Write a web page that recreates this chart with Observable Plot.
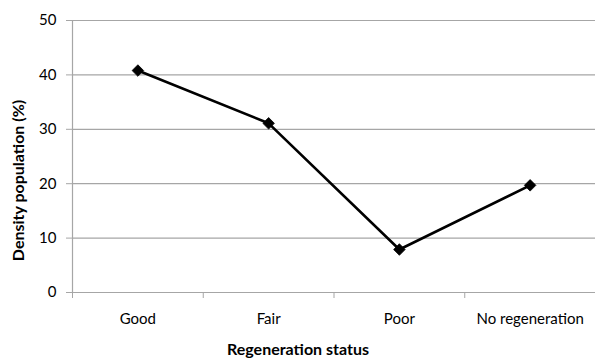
<!DOCTYPE html>
<html>
<head>
<meta charset="utf-8">
<script src="https://cdn.jsdelivr.net/npm/d3@7"></script>
<script src="https://cdn.jsdelivr.net/npm/@observablehq/plot@0.6"></script>
<style>
  html, body { margin: 0; padding: 0; background: #fff; }
  #chart svg { display: block; }
</style>
</head>
<body>
<div id="chart"></div>
<script>
const categories = ["Good", "Fair", "Poor", "No regeneration"];
const values = [40.8, 31.1, 7.9, 19.7];
const yTicks = [0, 10, 20, 30, 40, 50];
const xTitle = "Regeneration status";
const yTitle = "Density population (%)";

const data = categories.map((c, i) => ({cat: c, pos: i + 0.5, value: values[i]}));
const boundaries = d3.range(categories.length + 1);

const W = 595, H = 360;
const mL = 72, mR = 0, mT = 20, mB = 68;
const font = "Lato, 'Open Sans', sans-serif";
const gray = "#a6a6a6";

const chart = Plot.plot({
  width: W,
  height: H,
  marginLeft: mL,
  marginRight: mR,
  marginTop: mT,
  marginBottom: mB,
  style: {fontFamily: font, fontSize: "15px", color: "#000", background: "#fff"},
  x: {type: "linear", domain: [0, categories.length]},
  y: {domain: [0, 50]},
  marks: [
    Plot.gridY(yTicks, {stroke: gray, strokeOpacity: 1, strokeWidth: 1.2}),
    Plot.ruleX([0], {stroke: gray, strokeWidth: 1.2}),
    Plot.axisY({ticks: yTicks, tickSize: 6, tickPadding: 10, stroke: gray, tickFormat: d3.format("d"), label: null, fill: "#000", fontSize: 15}),
    Plot.axisX({ticks: boundaries, tickSize: 6, stroke: gray, tickFormat: () => "", label: null}),
    Plot.axisX({ticks: data.map(d => d.pos), tickSize: 0, tickPadding: 21, tickFormat: (d) => categories[Math.floor(d)], label: null, fill: "#000", fontSize: 15}),
    Plot.line(data, {x: "pos", y: "value", stroke: "#000", strokeWidth: 2.6}),
    Plot.dot(data, {x: "pos", y: "value", symbol: "diamond2", r: 5.2, fill: "#000", stroke: "#000", strokeWidth: 0.8}),
    Plot.text([xTitle], {frameAnchor: "bottom", textAnchor: "middle", dx: -(mL - mR) / 2, dy: mB - 6, fontWeight: "bold", fontSize: 16, fill: "#000"}),
    Plot.text([yTitle], {frameAnchor: "left", textAnchor: "middle", rotate: -90, dx: -54, dy: H / 2 - (mT + (H - mT - mB) / 2), fontWeight: "bold", fontSize: 16, fill: "#000"})
  ]
});
document.getElementById("chart").appendChild(chart);
</script>
</body>
</html>
